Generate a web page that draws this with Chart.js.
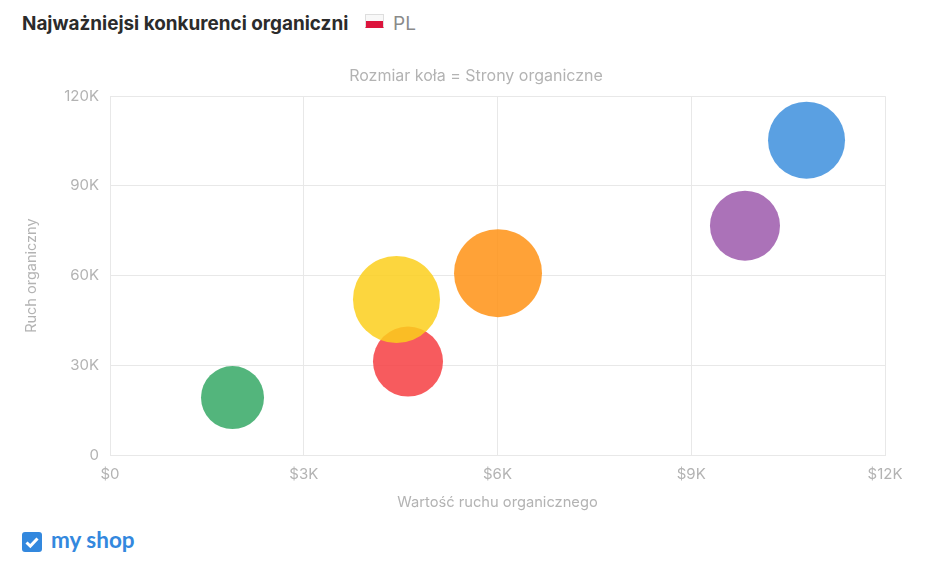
<!DOCTYPE html>
<html lang="pl">
<head>
<meta charset="utf-8">
<title>Najważniejsi konkurenci organiczni</title>
<script src="https://cdn.jsdelivr.net/npm/chart.js@4/dist/chart.umd.min.js"></script>
<style>
  html, body { margin: 0; padding: 0; background: #fff; overflow: hidden; }
  body { width: 941px; height: 571px; position: relative; font-family: Inter, sans-serif; }
  .heading { position: absolute; left: 22px; top: 12px; font-size: 18.9px; font-weight: 700; line-height: 24px; color: #2b2b2b; white-space: nowrap; }
  .flag { position: absolute; left: 365px; top: 14px; width: 19px; height: 14px; box-sizing: border-box; border: 1px solid #dedede; border-bottom-color: #dc143c; background: linear-gradient(#f8f8f8 50%, #dc143c 50%); }
  .country { position: absolute; left: 393px; top: 12px; font-size: 19px; line-height: 24px; color: #8a8a8a; }
  .chart-box { position: absolute; left: 22px; top: 52px; width: 908px; height: 463px; }
  .check { position: absolute; left: 22px; top: 532px; width: 20px; height: 20px; border-radius: 3px; background: #3388de; }
  .check svg { display: block; }
  .shop { position: absolute; left: 51px; top: 526px; font-family: Lato, sans-serif; font-weight: 700; font-size: 22.5px; line-height: 28px; color: #3388de; }
</style>
</head>
<body>
<div class="heading">Najważniejsi konkurenci organiczni</div>
<div class="flag"></div>
<div class="country">PL</div>
<div class="chart-box"><canvas id="competitors"></canvas></div>
<div class="check"><svg width="20" height="20" viewBox="0 0 20 20"><path d="M4.5 10.5l3.8 3.6L15.5 6.5" fill="none" stroke="#fff" stroke-width="3"/></svg></div>
<div class="shop">my shop</div>

<script>
const trafficValue = [10785, 9832, 4614, 1897, 4436, 6008];
const organicTraffic = [105300, 76700, 31250, 19200, 52000, 60800];
const organicPages = [7660, 6330, 6330, 5130, 9780, 10000];
const bubbleColors = ['#3d8fdd', '#9c59ab', '#f63e42', '#35a865', '#fccf1c', '#ff9214'];

const xTickLabels = ['$0', '$3K', '$6K', '$9K', '$12K'];
const yTickLabels = ['0', '30K', '60K', '90K', '120K'];

const GRID = '#e8e8e8';
const MUTED = '#b3b3b3';
const font = { family: 'Inter, sans-serif', size: 15 };
const axisTitleFont = { family: font.family, size: 14.7 };

const points = trafficValue.map((x, i) => ({
  x,
  y: organicTraffic[i],
  r: Math.sqrt(organicPages[i]) * 0.44,
}));

new Chart(document.getElementById('competitors'), {
  type: 'bubble',
  data: {
    datasets: [{
      data: points,
      backgroundColor: bubbleColors.map(c => c + 'd9'),
      borderWidth: 0,
      hoverBorderWidth: 0,
    }],
  },
  options: {
    responsive: true,
    maintainAspectRatio: false,
    animation: false,
    clip: false,
    plugins: {
      legend: { display: false },
      title: {
        display: true,
        text: 'Rozmiar koła = Strony organiczne',
        color: MUTED,
        font: { family: font.family, size: 16, weight: 'normal' },
        padding: { top: 15, bottom: 10 },
      },
    },
    scales: {
      x: {
        min: 0,
        max: 12000,
        // room on the right without pulling the centred title off the canvas middle
        afterFit: axis => { axis.height = 60; axis.paddingRight = 45; },
        afterBuildTicks: axis => { axis.ticks = xTickLabels.map((_, i) => ({ value: i * 3000 })); },
        grid: { color: GRID, drawTicks: false },
        border: { color: GRID },
        ticks: {
          color: MUTED,
          font,
          padding: 10,
          maxRotation: 0,
          callback: (value, i) => xTickLabels[i],
        },
        title: { display: true, text: 'Wartość ruchu organicznego', color: MUTED, font: axisTitleFont, padding: { top: 9 } },
      },
      y: {
        min: 0,
        max: 120000,
        afterFit: axis => { axis.width = 88; },
        afterBuildTicks: axis => { axis.ticks = yTickLabels.map((_, i) => ({ value: i * 30000 })); },
        grid: { color: GRID, drawTicks: false },
        border: { color: GRID },
        ticks: {
          color: MUTED,
          font,
          padding: 11,
          callback: (value, i) => yTickLabels[i],
        },
        title: { display: true, text: 'Ruch organiczny', color: MUTED, font: { family: font.family, size: 14.5 }, padding: { top: 1, bottom: 0 } },
      },
    },
  },
});
</script>
</body>
</html>
